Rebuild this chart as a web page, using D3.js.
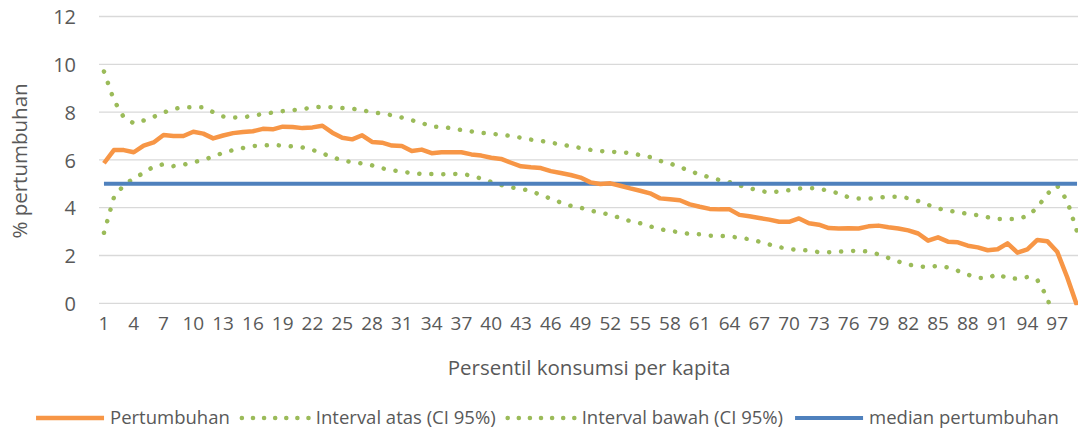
<!DOCTYPE html>
<html><head><meta charset="utf-8">
<script src="https://cdn.jsdelivr.net/npm/d3@7"></script>
<style>
html,body{margin:0;padding:0;background:#fff;}
svg{display:block;font-family:"Open Sans",sans-serif;}
</style></head>
<body>
<svg id="chart" width="1078" height="432"></svg>
<script>
const categories = d3.range(1, 100);
const yTicks = [0, 2, 4, 6, 8, 10, 12];
const xTickLabels = d3.range(1, 100, 3);

const pertumbuhan = [
 5.86, 6.41, 6.41, 6.32, 6.6, 6.73, 7.04, 7.0, 7.0, 7.18,
 7.1, 6.9, 7.02, 7.12, 7.17, 7.2, 7.3, 7.28, 7.39, 7.38,
 7.33, 7.36, 7.43, 7.14, 6.93, 6.86, 7.03, 6.75, 6.72, 6.6,
 6.58, 6.37, 6.43, 6.28, 6.32, 6.32, 6.32, 6.23, 6.18, 6.09,
 6.04, 5.88, 5.73, 5.69, 5.66, 5.53, 5.45, 5.37, 5.26, 5.06,
 4.99, 5.02, 4.92, 4.81, 4.71, 4.6, 4.39, 4.35, 4.31, 4.14,
 4.04, 3.95, 3.93, 3.93, 3.7, 3.64, 3.57, 3.5, 3.41, 3.41,
 3.55, 3.35, 3.29, 3.15, 3.13, 3.14, 3.13, 3.22, 3.25, 3.18,
 3.13, 3.05, 2.92, 2.62, 2.76, 2.58, 2.55, 2.41, 2.34, 2.22,
 2.26, 2.51, 2.12, 2.26, 2.65, 2.6, 2.16, 1.1, -0.1
];
const intervalAtas = [
 9.7, 8.5, 7.78, 7.53, 7.65, 7.8, 7.98, 8.13, 8.2, 8.2,
 8.2, 8.0, 7.82, 7.77, 7.78, 7.85, 7.92, 7.98, 8.04, 8.08,
 8.13, 8.19, 8.23, 8.2, 8.17, 8.14, 8.08, 7.99, 7.94, 7.87,
 7.77, 7.66, 7.55, 7.39, 7.39, 7.32, 7.25, 7.19, 7.13, 7.1,
 7.05, 7.0, 6.93, 6.85, 6.8, 6.72, 6.65, 6.57, 6.5, 6.42,
 6.37, 6.34, 6.32, 6.29, 6.2, 6.12, 5.96, 5.85, 5.7, 5.54,
 5.39, 5.27, 5.16, 5.07, 4.93, 4.82, 4.71, 4.64, 4.68, 4.73,
 4.8, 4.82, 4.8, 4.7, 4.6, 4.43, 4.38, 4.38, 4.42, 4.46,
 4.46, 4.4, 4.28, 4.12, 3.97, 3.87, 3.82, 3.74, 3.69, 3.6,
 3.53, 3.53, 3.53, 3.65, 4.0, 4.58, 4.92, 4.3, 3.0
];
const intervalBawah = [
 2.95, 4.43, 4.95, 5.22, 5.46, 5.72, 5.82, 5.74, 5.8, 5.9,
 6.0, 6.14, 6.3, 6.41, 6.5, 6.58, 6.6, 6.62, 6.6, 6.56,
 6.52, 6.42, 6.27, 6.12, 5.97, 5.91, 5.85, 5.77, 5.65, 5.57,
 5.51, 5.45, 5.41, 5.41, 5.4, 5.41, 5.42, 5.34, 5.22, 5.08,
 4.95, 4.85, 4.79, 4.7, 4.53, 4.38, 4.22, 4.08, 4.0, 3.88,
 3.8, 3.7, 3.57, 3.44, 3.35, 3.22, 3.1, 3.03, 2.97, 2.9,
 2.89, 2.83, 2.82, 2.8, 2.74, 2.68, 2.58, 2.46, 2.35, 2.27,
 2.23, 2.21, 2.14, 2.14, 2.16, 2.18, 2.2, 2.16, 2.05, 1.9,
 1.75, 1.62, 1.55, 1.51, 1.57, 1.5, 1.36, 1.2, 1.06, 1.05,
 1.23, 1.04, 1.03, 1.1, 0.98, 0.25, -1.2, -1.0, -0.5
];
const medianPertumbuhan = 5.0;

const seriesNames = ["Pertumbuhan", "Interval atas (CI 95%)", "Interval bawah (CI 95%)", "median pertumbuhan"];

const svg = d3.select("#chart");
const plot = {left: 99, right: 1082, top: 16.5, bottom: 303.3};

const x = d3.scaleBand().domain(categories).range([plot.left, plot.right]).paddingInner(0).paddingOuter(0);
const cx = d => x(d) + x.bandwidth() / 2;
const y = d3.scaleLinear().domain([0, 12]).range([plot.bottom, plot.top]);

const textColor = "#595959";
const colors = {orange: "#F79646", green: "#9BBB59", blue: "#4F81BD", grid: "#D9D9D9"};

// gridlines
svg.append("g").selectAll("line").data(yTicks).join("line")
  .attr("x1", plot.left).attr("x2", plot.right)
  .attr("y1", d => y(d)).attr("y2", d => y(d))
  .attr("stroke", colors.grid).attr("stroke-width", 1.3);

// y axis
const yAxis = d3.axisLeft(y).tickValues(yTicks).tickSize(0).tickPadding(0);
const gy = svg.append("g").attr("transform", "translate(76,0)").call(yAxis);
gy.select(".domain").remove();
gy.selectAll("text").attr("fill", textColor).style("font-size", "20px").style("font-family", "'Open Sans',sans-serif").attr("dy", "0.36em");

// x axis
const xAxis = d3.axisBottom(x).tickValues(xTickLabels).tickSize(0).tickPadding(0);
const gx = svg.append("g").attr("transform", "translate(0,317)").call(xAxis);
gx.select(".domain").remove();
gx.selectAll("text").attr("fill", textColor).style("font-size", "19px").style("font-family", "'Open Sans',sans-serif").attr("dy", "0.7em");

// axis titles
svg.append("text").attr("x", 589).attr("y", 368).attr("text-anchor", "middle").attr("dy", "0.35em")
  .attr("fill", textColor).style("font-size", "20.5px").text("Persentil konsumsi per kapita");
svg.append("text").attr("transform", "translate(20,161) rotate(-90)").attr("text-anchor", "middle").attr("dy", "0.35em")
  .attr("fill", textColor).style("font-size", "20.5px").text("% pertumbuhan");

// clip
svg.append("clipPath").attr("id", "clip").append("rect")
  .attr("x", plot.left).attr("y", plot.top - 3).attr("width", plot.right - plot.left).attr("height", plot.bottom - plot.top + 5);

const line = d3.line().x((d, i) => cx(categories[i])).y(d => y(d));
const g = svg.append("g").attr("clip-path", "url(#clip)");

g.append("path").datum(intervalAtas).attr("d", line).attr("fill", "none")
  .attr("stroke", colors.green).attr("stroke-width", 4.5).attr("stroke-linecap", "round")
  .attr("stroke-dasharray", "0.1 11.9");
g.append("path").datum(intervalBawah).attr("d", line).attr("fill", "none")
  .attr("stroke", colors.green).attr("stroke-width", 4.5).attr("stroke-linecap", "round")
  .attr("stroke-dasharray", "0.1 11.9");
g.append("line")
  .attr("x1", cx(categories[0])).attr("x2", cx(categories[categories.length - 1]))
  .attr("y1", y(medianPertumbuhan)).attr("y2", y(medianPertumbuhan))
  .attr("stroke", colors.blue).attr("stroke-width", 4);
g.append("path").datum(pertumbuhan).attr("d", line).attr("fill", "none")
  .attr("stroke", colors.orange).attr("stroke-width", 4.5).attr("stroke-linejoin", "round");

// legend
const legendItems = [
  {name: seriesNames[0], color: colors.orange, dash: null, w: 4.5},
  {name: seriesNames[1], color: colors.green, dash: "0.1 11", w: 4.5},
  {name: seriesNames[2], color: colors.green, dash: "0.1 11", w: 4.5},
  {name: seriesNames[3], color: colors.blue, dash: null, w: 4}
];
const lg = svg.append("g");
const sampleLen = 70, gap1 = 6, gap2 = 10, ly = 418;
let cursor = 0;
legendItems.forEach(it => {
  const gi = lg.append("g");
  const t = gi.append("text").attr("dy", "0.35em").attr("fill", textColor).style("font-size", "18.5px").text(it.name);
  const tw = t.node().getComputedTextLength();
  const start = cursor;
  gi.append("line").attr("x1", start + 2).attr("x2", start + sampleLen).attr("y1", 0).attr("y2", 0)
    .attr("stroke", it.color).attr("stroke-width", it.w)
    .attr("stroke-linecap", it.dash ? "round" : "butt")
    .attr("stroke-dasharray", it.dash);
  t.attr("x", start + sampleLen + gap1);
  cursor = start + sampleLen + gap1 + tw + gap2;
});
const total = cursor - gap2;
lg.attr("transform", `translate(${546.5 - total / 2},${ly})`);
</script>
</body></html>
